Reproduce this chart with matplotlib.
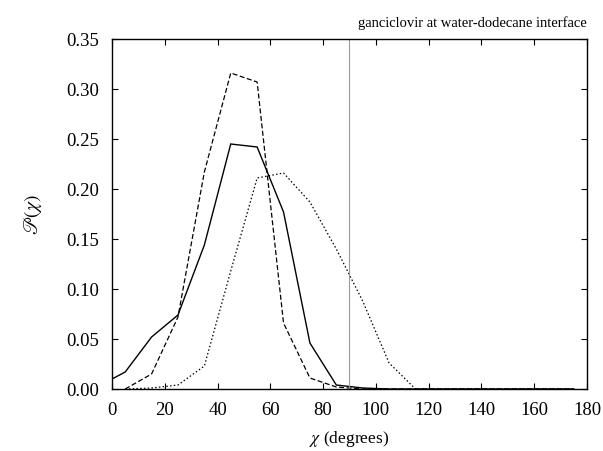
import matplotlib
matplotlib.use("Agg")
import matplotlib.pyplot as plt

plt.rcParams['font.family'] = ['Liberation Serif', 'DejaVu Serif']
plt.rcParams['mathtext.fontset'] = 'stix'

x_solid = [0, 5, 15, 25, 35, 45, 55, 65, 75, 85, 95, 105, 115, 125, 135, 145, 155, 165, 175]
y_solid = [0.010, 0.017, 0.052, 0.074, 0.144, 0.245, 0.242, 0.177, 0.046, 0.004, 0.001,
           0, 0, 0, 0, 0, 0, 0, 0]
x_other = [5, 15, 25, 35, 45, 55, 65, 75, 85, 95, 105, 115, 125, 135, 145, 155, 165, 175]
y_dashed = [0.0, 0.015, 0.072, 0.217, 0.316, 0.307, 0.066, 0.011, 0.002, 0.0, 0, 0, 0, 0, 0, 0, 0, 0]
y_dotted = [0.0, 0.001, 0.004, 0.023, 0.118, 0.211, 0.216, 0.187, 0.140, 0.088, 0.026, 0.0,
            0, 0, 0, 0, 0, 0]
interface_angle = 90
xticks = list(range(0, 181, 20))
yticks = [0.00, 0.05, 0.10, 0.15, 0.20, 0.25, 0.30, 0.35]

fig = plt.figure(figsize=(6.03, 4.52), dpi=100)
ax = fig.add_axes([112/603, 1-390/452, 475/603, 350/452])

ax.plot(x_solid, y_solid, color='black', lw=1.0, solid_joinstyle='miter')
ax.plot(x_other, y_dashed, color='black', lw=0.9, dashes=(4, 2))
ax.plot(x_other, y_dotted, color='black', lw=0.9, dashes=(1.2, 1.8))
ax.axvline(interface_angle, color='#999999', lw=0.8)

ax.set_xlim(0, 180)
ax.set_ylim(0, 0.35)
ax.set_xticks(xticks)
ax.set_yticks(yticks)
ax.set_yticklabels([f"{v:.2f}" for v in yticks])
ax.tick_params(direction='in', length=4, width=0.8, top=True, right=True,
               labelsize=13.5, pad=9)
for s in ax.spines.values():
    s.set_linewidth(1.0)

ax.set_xlabel(r"$\chi$ (degrees)", fontsize=12.5, labelpad=7)
ax.set_ylabel(r"$\mathscr{P}(\chi)$", fontsize=14, labelpad=16)
fig.text(587/603, 1-27/452, "ganciclovir at water-dodecane interface",
         ha='right', va='baseline', fontsize=10.5)

fig.savefig("out.png", dpi=100)
